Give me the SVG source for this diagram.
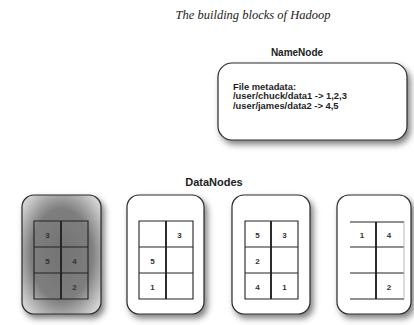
<svg xmlns="http://www.w3.org/2000/svg" width="414" height="325" viewBox="0 0 414 325">
<style>
.title{font-family:"Liberation Serif",serif;font-style:italic;font-size:12.5px;fill:#222}
.lbl{font-family:"Liberation Sans",Arial,sans-serif;font-weight:bold;fill:#222}
.meta{font-family:"Liberation Sans Narrow","Liberation Sans",Arial,sans-serif;font-stretch:condensed;font-weight:bold;font-size:9.4px;fill:#1e1e1e}
.box{fill:#fff;stroke:#2a2a2a;stroke-width:1.2;filter:url(#sh)}
.g{stroke:#222;stroke-width:1.1;fill:none}
.gm{stroke:#222;stroke-width:1.9;fill:none}
.n{font-family:"Liberation Sans",Arial,sans-serif;font-weight:bold;font-size:8px;fill:#333;text-anchor:middle}
</style>
<defs>
<filter id="sh" x="-20%" y="-20%" width="150%" height="150%">
<feDropShadow dx="3" dy="4" stdDeviation="3" flood-color="#000" flood-opacity="0.5"/>
</filter>
<radialGradient id="dark" cx="0.5" cy="0.5" r="0.62">
<stop offset="0" stop-color="#737373"/>
<stop offset="0.62" stop-color="#7e7e7e"/>
<stop offset="1" stop-color="#d0d0d0"/>
</radialGradient>
</defs>
<rect width="414" height="325" fill="#fff"/>
<g id="title"><text class="title" x="253" y="18.5" text-anchor="middle">The building blocks of Hadoop</text></g>

<g id="namenode">
<text class="lbl" x="297" y="56" font-size="10" text-anchor="middle">NameNode</text>
<rect class="box" x="218" y="63" width="189" height="77" rx="14"/>
<text class="meta" x="233" y="89.5">File metadata:</text>
<text class="meta" x="233" y="99">/user/chuck/data1 -&gt; 1,2,3</text>
<text class="meta" x="233" y="108.5">/user/james/data2 -&gt; 4,5</text>
</g>

<g id="datanodes-label"><text class="lbl" x="214" y="186" font-size="11" text-anchor="middle">DataNodes</text></g>

<g id="datanode1">
<rect class="box" x="22" y="195" width="79" height="119" rx="12" style="fill:url(#dark)"/>
<path class="g" d="M34 221H88V299H34Z M34 247H88 M34 273H88"/>
<path class="gm" d="M61 221V299"/>
<text class="n" x="47.5" y="238">3</text>
<text class="n" x="47.5" y="264">5</text>
<text class="n" x="74.5" y="264">4</text>
<text class="n" x="74.5" y="290">2</text>
</g>

<g id="datanode2">
<rect class="box" x="127" y="195" width="77" height="119" rx="12"/>
<path class="g" d="M139 221H193V299H139Z M139 247H193 M139 273H193"/>
<path class="gm" d="M166 221V299"/>
<text class="n" x="179.5" y="238">3</text>
<text class="n" x="152.5" y="264">5</text>
<text class="n" x="152.5" y="290">1</text>
</g>

<g id="datanode3">
<rect class="box" x="232" y="195" width="78" height="119" rx="12"/>
<path class="g" d="M245 221H298V299H245Z M245 247H298 M245 273H298"/>
<path class="gm" d="M271 221V299"/>
<text class="n" x="257.5" y="238">5</text>
<text class="n" x="284.5" y="238">3</text>
<text class="n" x="257.5" y="264">2</text>
<text class="n" x="257.5" y="290">4</text>
<text class="n" x="284.5" y="290">1</text>
</g>

<g id="datanode4">
<rect class="box" x="337" y="195" width="74" height="119" rx="12"/>
<path class="g" d="M350 222H404 M350 247H404 M350 273H404 M350 299H404"/>
<path d="M404 222V299" stroke="#aaa" stroke-width="0.8" fill="none"/>
<path class="gm" d="M376 222V299"/>
<text class="n" x="362" y="238">1</text>
<text class="n" x="389" y="238">4</text>
<text class="n" x="389" y="290">2</text>
</g>
</svg>
